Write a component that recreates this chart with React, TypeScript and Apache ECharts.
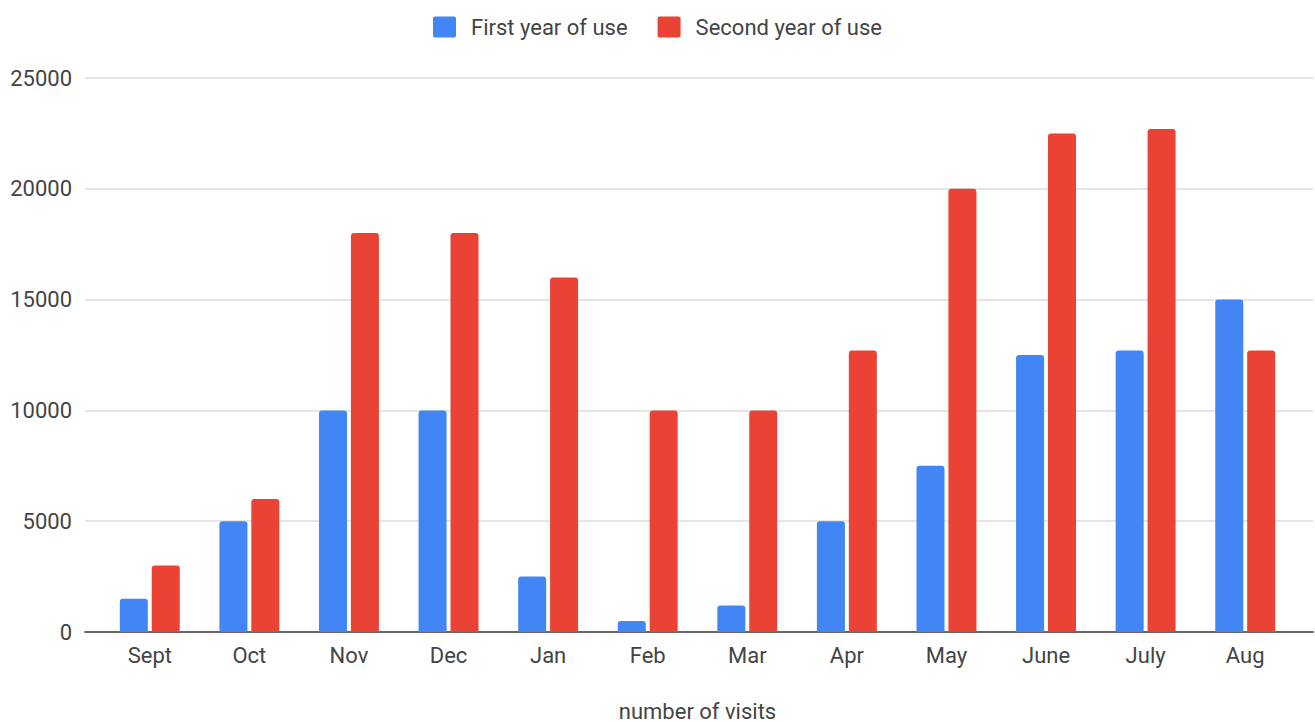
import React, { useEffect, useRef } from "react";
import * as echarts from "echarts";

const categories = ["Sept", "Oct", "Nov", "Dec", "Jan", "Feb", "Mar", "Apr", "May", "June", "July", "Aug"];
const firstYear = [1500, 5000, 10000, 10000, 2500, 500, 1200, 5000, 7500, 12500, 12700, 15000];
const secondYear = [3000, 6000, 18000, 18000, 16000, 10000, 10000, 12700, 20000, 22500, 22700, 12700];
const seriesNames = ["First year of use", "Second year of use"];
const xAxisTitle = "number of visits";

const FONT = "Roboto, 'Noto Sans', sans-serif";
const TEXT = "#444";
const FS = 22;
const LEGEND_ICON =
  "path://M2,0H21A2,2 0 0 1 23,2V19A2,2 0 0 1 21,21H2A2,2 0 0 1 0,19V2A2,2 0 0 1 2,0Z";

export default function App() {
  const ref = useRef<HTMLDivElement>(null);
  useEffect(() => {
    if (!ref.current) return;
    const chart = echarts.init(ref.current, undefined, { renderer: "svg" });
    chart.setOption({
      animation: false,
      textStyle: { fontFamily: FONT },
      legend: {
        top: 11,
        left: "center",
        itemWidth: 23,
        itemHeight: 21,
        itemGap: 30,
        icon: LEGEND_ICON,
        data: seriesNames,
        textStyle: { fontSize: FS, color: TEXT, fontFamily: FONT, padding: [0, 0, 0, 10] },
      },
      grid: [
        { left: 85, right: 2, top: 78, bottom: 90, outerBoundsMode: "none", containLabel: false },
        { left: 100, right: 20, top: 78, bottom: 90, outerBoundsMode: "none", containLabel: false },
      ],
      xAxis: [
        {
          type: "category",
          gridIndex: 0,
          data: categories,
          axisLine: { show: true, lineStyle: { color: "#666", width: 2 } },
          axisTick: { show: false },
          axisLabel: { show: false },
        },
        {
          type: "category",
          gridIndex: 1,
          data: categories,
          axisLine: { show: false },
          axisTick: { show: false },
          axisLabel: { fontSize: FS, color: TEXT, margin: 12, fontFamily: FONT },
          name: xAxisTitle,
          nameLocation: "middle",
          nameGap: 68,
          nameTextStyle: { fontSize: FS, color: TEXT, fontFamily: FONT },
        },
      ],
      yAxis: [
        {
          type: "value",
          gridIndex: 0,
          min: 0,
          max: 25000,
          interval: 5000,
          axisLine: { show: false },
          axisTick: { show: false },
          axisLabel: {
            fontSize: FS,
            color: TEXT,
            margin: 13,
            fontFamily: FONT,
            formatter: (v: number) => String(v),
          },
          splitLine: { lineStyle: { color: "#dcdcdc", width: 1.5 } },
        },
        {
          type: "value",
          gridIndex: 1,
          min: 0,
          max: 25000,
          interval: 5000,
          show: false,
          splitLine: { show: false },
        },
      ],
      series: [
        {
          name: seriesNames[0],
          type: "bar",
          xAxisIndex: 1,
          yAxisIndex: 1,
          data: firstYear,
          barWidth: 28,
          barGap: "14%",
          itemStyle: { color: "#4285F4", borderRadius: [3, 3, 0, 0] },
        },
        {
          name: seriesNames[1],
          type: "bar",
          xAxisIndex: 1,
          yAxisIndex: 1,
          data: secondYear,
          barWidth: 28,
          barGap: "14%",
          itemStyle: { color: "#EA4335", borderRadius: [3, 3, 0, 0] },
        },
      ],
    });
    return () => chart.dispose();
  }, []);
  return (
    <div
      ref={ref}
      style={{ position: "fixed", left: 0, top: 0, width: 1315, height: 722, background: "#fff" }}
    />
  );
}
